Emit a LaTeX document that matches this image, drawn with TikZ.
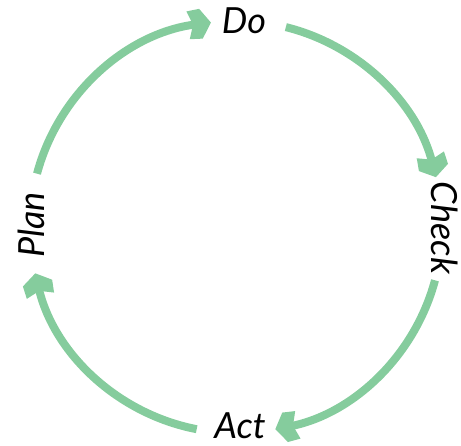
\documentclass[tikz,border=0pt]{standalone}
\usepackage{fontspec}
\setmainfont{Lato}
\usetikzlibrary{arrows.meta}
\definecolor{cyclegreen}{RGB}{133,204,157}

% blunt chevron head
\pgfdeclarearrow{
  name = Chevron,
  setup code = {
    \pgfarrowssettipend{0pt}
    \pgfarrowssetlineend{-15pt}
    \pgfarrowssetvisualbackend{-17pt}
    \pgfarrowssetbackend{-23pt}
    \pgfarrowshullpoint{0pt}{0pt}
    \pgfarrowsupperhullpoint{-23pt}{15pt}
  },
  drawing code = {
    \pgfpathmoveto{\pgfpoint{0pt}{0pt}}
    \pgfpathlineto{\pgfpoint{-10pt}{15pt}}
    \pgfpathlineto{\pgfpoint{-23pt}{14pt}}
    \pgfpathlineto{\pgfpoint{-18pt}{0pt}}
    \pgfpathlineto{\pgfpoint{-23pt}{-14pt}}
    \pgfpathlineto{\pgfpoint{-10pt}{-15pt}}
    \pgfpathclose
    \pgfusepathqfill
  }
}

\tikzset{
  step label/.style={font=\fontsize{36}{40}\selectfont\itshape,inner sep=0pt},
  cycle arrow/.style={cyclegreen,line width=8pt,-Chevron},
}

\begin{document}
\begin{tikzpicture}[x=1pt,y=1pt]
  \useasboundingbox (0,0) rectangle (461,446);
  \coordinate (C) at (236,219);

%%%%%%%%%%%%%%%%%%%%%%%%%%
  \node[step label] (Do) at (244,425) {Do};
  \node[step label,rotate=-90] (Check) at (445,218) {Check};
  \node[step label] (Act) at (240,20) {Act};
  \node[step label,rotate=90] (Plan) at (31,221) {Plan};

%%%%%%%%%%%%%%%%%%%%%%%%%%
  % where each arc leaves its label
  \coordinate (PlanOut) at ([shift={(165:206)}]C);
  \coordinate (DoOut) at ([shift={(76:206)}]C);
  \coordinate (CheckOut) at ([shift={(-15:206)}]C);
  \coordinate (ActOut) at ([shift={(-101:206)}]C);

  \draw[cycle arrow] (PlanOut) arc[start angle=165,end angle=97,radius=206];
  \draw[cycle arrow] (DoOut) arc[start angle=76,end angle=14,radius=206];
  \draw[cycle arrow] (CheckOut) arc[start angle=-15,end angle=-79,radius=206];
  \draw[cycle arrow] (ActOut) arc[start angle=-101,end angle=-167,radius=206];
\end{tikzpicture}
\end{document}
